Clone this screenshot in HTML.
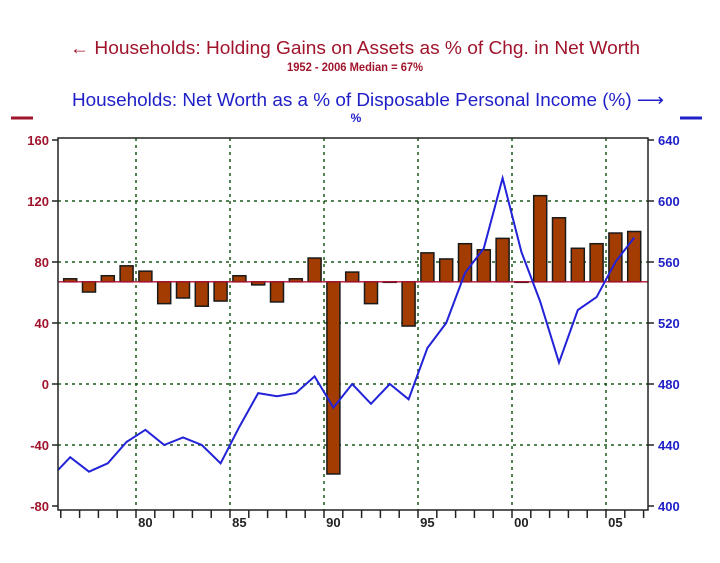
<!DOCTYPE html>
<html><head><meta charset="utf-8"><style>
body{margin:0;background:#fff;}
svg{display:block;font-family:"Liberation Sans",Arial,sans-serif;}
</style></head><body>
<svg id="chart" width="720" height="563" viewBox="0 0 720 563" xmlns="http://www.w3.org/2000/svg">
<text x="355" y="54" text-anchor="middle" font-size="18" fill="#a0142c" textLength="570" lengthAdjust="spacingAndGlyphs">← Households: Holding Gains on Assets as % of Chg. in Net Worth</text>
<text x="355" y="71" text-anchor="middle" font-size="12" font-weight="bold" fill="#a0142c" textLength="136" lengthAdjust="spacingAndGlyphs">1952 - 2006 Median = 67%</text>
<text x="368" y="106" text-anchor="middle" font-size="18" fill="#2020c8" textLength="592" lengthAdjust="spacingAndGlyphs">Households: Net Worth as a % of Disposable Personal Income (%) ⟶</text>
<text x="356" y="122" text-anchor="middle" font-size="12" font-weight="bold" fill="#2020c8">%</text>
<line x1="11" y1="118" x2="33" y2="118" stroke="#a0142c" stroke-width="3"/>
<line x1="680" y1="118" x2="702" y2="118" stroke="#2020c8" stroke-width="3"/>
<g id="grid"></g><g id="bars"></g><g id="lineg"></g><g id="axes"></g>
</svg>
<script>
const years=[1976,1977,1978,1979,1980,1981,1982,1983,1984,1985,1986,1987,1988,1989,1990,1991,1992,1993,1994,1995,1996,1997,1998,1999,2000,2001,2002,2003,2004,2005,2006];
const gains=[69,60.3,71,77.5,74,52.7,56.4,51,54.4,71,65,53.8,69,82.6,-59,73.4,52.7,67,38,86,82,92,88,95.5,67,123.5,109,89,92,99,100];
const lineYears=[1975,1976,1977,1978,1979,1980,1981,1982,1983,1984,1985,1986,1987,1988,1989,1990,1991,1992,1993,1994,1995,1996,1997,1998,1999,2000,2001,2002,2003,2004,2005,2006];
const netWorth=[419,432,422.5,428,442,450,440,445,440,428,452,474,472,474,485,464.5,480,467,480,470,503.6,520,552.8,569,615,566.6,534,494,528.5,537,560,576];
const leftTicks=[-80,-40,0,40,80,120,160];
const rightTicks=[400,440,480,520,560,600,640];
const xLabels=["80","85","90","95","00","05"];
const xLabelYears=[1980,1985,1990,1995,2000,2005];
const median=67;
const NS="http://www.w3.org/2000/svg";
const L=58,R=648,T=138,B=510;
const x=y=>136+(y-1980)*18.8;
const yl=v=>384-v*1.525;
const yr=v=>384-(v-480)*1.525;
function mk(p,tag,at){const e=document.createElementNS(NS,tag);for(const k in at)e.setAttribute(k,at[k]);document.getElementById(p).appendChild(e);return e;}
// grid
leftTicks.forEach(t=>{if(t===-80||t===160)return;const e=mk('grid','line',{x1:L,x2:R,y1:yl(t),y2:yl(t),stroke:'#1a5a1a','stroke-width':1.5,'stroke-dasharray':'3,4'});

});
xLabelYears.forEach(t=>{const e=mk('grid','line',{x1:x(t),x2:x(t),y1:T,y2:B,stroke:'#1a5a1a','stroke-width':1.5,'stroke-dasharray':'3,4'});

});
// bars
years.forEach((yy,i)=>{const v=gains[i];const cx=x(yy+0.5);const y0=yl(median),y1=yl(v);
const e=mk('bars','rect',{x:cx-6.5,y:Math.min(y0,y1),width:13,height:Math.max(0.5,Math.abs(y1-y0)),fill:'#a33c00',stroke:'#1a1a1a','stroke-width':1.5});

});
const ml=mk('bars','line',{x1:L,x2:R,y1:yl(median),y2:yl(median),stroke:'#b01030','stroke-width':1.3});


// clip + line
const cp=mk('lineg','clipPath',{id:'pc'});cp.appendChild(Object.assign(document.createElementNS(NS,'rect'),{}));
cp.firstChild.setAttribute('x',L);cp.firstChild.setAttribute('y',T);cp.firstChild.setAttribute('width',R-L);cp.firstChild.setAttribute('height',B-T);
const pts=lineYears.map((yy,i)=>x(yy+0.5).toFixed(1)+','+yr(netWorth[i]).toFixed(1)).join(' ');
const pl=mk('lineg','polyline',{points:pts,fill:'none',stroke:'#2222d8','stroke-width':2,'clip-path':'url(#pc)'});


// axes
const fr=mk('axes','rect',{x:L,y:T,width:R-L,height:B-T,fill:'none',stroke:'#222','stroke-width':1.5});


leftTicks.forEach(t=>{mk('axes','line',{x1:L-6,x2:L,y1:yl(t),y2:yl(t),stroke:'#222','stroke-width':1.5});
const e=mk('axes','text',{x:L-9,y:yl(t)+5,'text-anchor':'end','font-size':13,'font-weight':'bold',fill:'#a0142c'});e.textContent=t;

});
rightTicks.forEach(t=>{mk('axes','line',{x1:R,x2:R+6,y1:yr(t),y2:yr(t),stroke:'#222','stroke-width':1.5});
const e=mk('axes','text',{x:R+10,y:yr(t)+5,'font-size':13,'font-weight':'bold',fill:'#2020c8'});e.textContent=t;

});
for(let yy=1976;yy<=2007;yy++){const xx=x(yy);if(xx<L||xx>R)continue;mk('axes','line',{x1:xx,x2:xx,y1:B,y2:B+8,stroke:'#222','stroke-width':1.5});}
xLabels.forEach((lb,i)=>{const e=mk('axes','text',{x:x(xLabelYears[i]+0.5),y:527,'text-anchor':'middle','font-size':13,'font-weight':'bold',fill:'#222'});e.textContent=lb;

});
</script>
</body></html>
